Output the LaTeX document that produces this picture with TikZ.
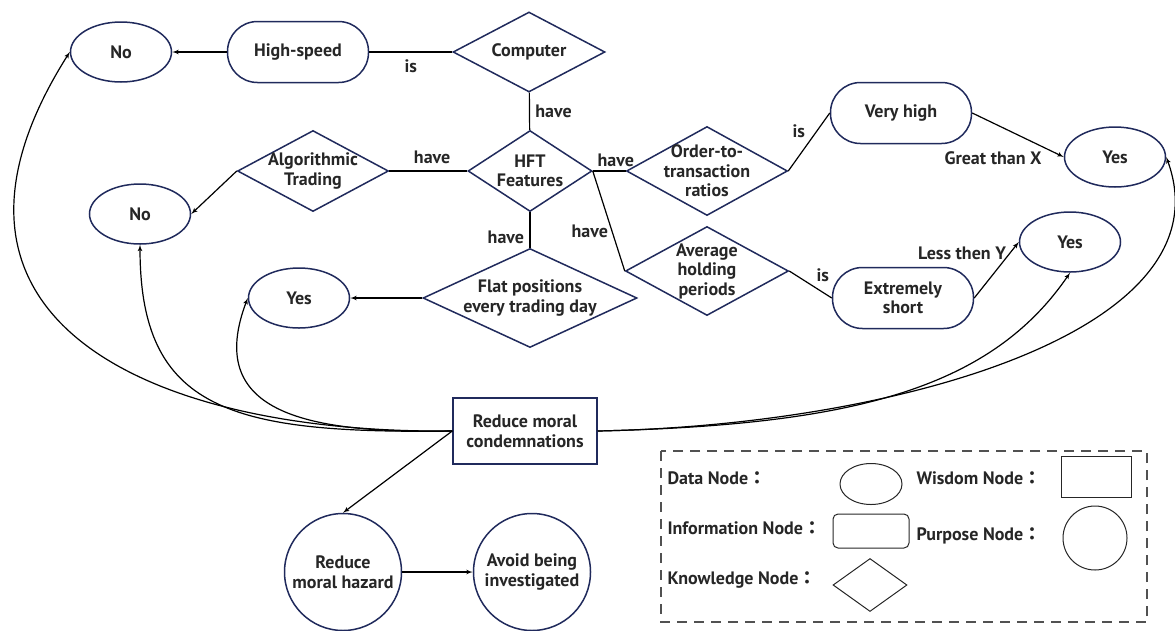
\documentclass[tikz,border=0pt]{standalone}
\usepackage{fontspec}
\setmainfont{PT Sans}
\newfontfamily\cjk{Noto Sans CJK TC}
\usetikzlibrary{shapes.geometric,arrows,positioning}
\definecolor{navy}{RGB}{32,42,92}
\definecolor{ink}{RGB}{38,38,38}

\begin{document}
\begin{tikzpicture}[x=1pt,y=-1pt]
    \tikzset{
      every node/.style={font=\bfseries\fontsize{18}{19.5}\selectfont, text=ink},
      datum/.style={draw=navy, ellipse, line width=1.5pt, minimum width=101pt, minimum height=60pt, inner sep=0pt},
      info/.style={draw=navy, rectangle, rounded corners=30pt, line width=1.5pt, minimum width=141pt, minimum height=61pt, inner sep=0pt, align=center},
      know/.style={draw=navy, diamond, line width=1.5pt, inner sep=0pt},
      purpose/.style={draw=navy, circle, line width=1.5pt, minimum size=117pt, inner sep=0pt, align=center},
      wisdom/.style={draw=navy, rectangle, line width=1.5pt, minimum width=144pt, minimum height=66pt, inner sep=0pt, align=center},
      legshape/.style={draw=ink, line width=1pt, inner sep=0pt},
      txt/.style={align=center},
      line/.style={draw, -latex', line width=1.2pt},
      conn/.style={draw, line width=1.2pt}
    }
    \useasboundingbox (0,0) rectangle (1175,630);

    \node [datum] (no1) at (121,52) {No};
    \node [info] (hs) at (298,52) {High-speed};
    \node [know, minimum width=152pt, minimum height=80pt, label={[txt]center:Computer}] (comp) at (529,52) {};
    \node [know, minimum width=124pt, minimum height=81pt, label={[txt]center:HFT\\Features}] (hft) at (530,171) {};
    \node [know, minimum width=151pt, minimum height=81pt, label={[txt]center:Algorithmic\\Trading}] (alg) at (313,171) {};
    \node [datum] (no2) at (140,214) {No};
    \node [know, minimum width=161pt, minimum height=89pt, label={[txt]center:Order-to-\\transaction\\ratios}] (otr) at (707,171) {};
    \node [know, minimum width=163pt, minimum height=89pt, label={[txt]center:Average\\holding\\periods}] (ahp) at (707,271) {};
    \node [know, minimum width=214pt, minimum height=99pt, label={[txt]center:Flat positions\\every trading day}] (flat) at (530,298) {};
    \node [info] (vh) at (901,113) {Very high};
    \node [info] (es) at (903,298) {Extremely\\short};
    \node [datum] (yes1) at (1115,157) {Yes};
    \node [datum] (yes2) at (1070,242) {Yes};
    \node [datum] (yes3) at (299,298) {Yes};
    \node [wisdom] (rmc) at (525,431) {Reduce moral\\condemnations};
    \node [purpose] (rmh) at (343,572) {Reduce\\moral hazard};
    \node [purpose] (abi) at (532,572) {Avoid being\\investigated};

    \path [line] (hs) -- (no1);
    \path [conn] (hs) -- node[below=4pt] {is} (comp);
    \path [conn] (comp) -- node[right=2pt] {have} (hft);
    \path [conn] (alg) -- node[above=3pt, pos=0.55] {have} (hft);
    \path [line] (alg.west) -- (no2.east);
    \path [conn] (hft.east) -- node[above, pos=0.7] {have} (otr.west);
    \path [conn] (hft.east) -- node[left, pos=0.6] {have} (ahp.west);
    \path [conn] (hft) -- node[left=2pt, pos=0.7] {have} (flat);
    \path [line] (flat) -- (yes3);
    \path [conn] (otr.east) -- node[left=8pt, pos=0.69] {is} (vh.west);
    \path [line] (vh.east) -- node[below left, pos=0.8] {Great than X} (yes1.west);
    \path [conn] (ahp.east) -- node[above right, pos=0.55] {is} (es.west);
    \path [line] (es.east) -- node[left, pos=0.8] {Less then Y} (yes2.west);

    \path [line] (rmc.west) .. controls (150,434) and (-100,320) .. (no1.west);
    \path [line] (rmc.west) .. controls (230,434) and (140,410) .. (no2.south);
    \path [line] (rmc.west) .. controls (300,434) and (205,410) .. (yes3.west);
    \path [line] (rmc.east) .. controls (850,425) and (990,390) .. (yes2.south);
    \path [line] (rmc.east) .. controls (900,425) and (1230,330) .. (yes1.east);
    \path [line] (rmc.west) -- (rmh.north);
    \path [line] (rmh) -- (abi);

    \draw [dash pattern=on 10pt off 7pt, line width=1.2pt, draw=ink!80] (661,451) rectangle (1147,622);
    \node [anchor=west] (ldata) at (664,478) {Data Node{\cjk ：}};
    \node [legshape, ellipse, minimum width=62pt, minimum height=41pt] (kdata) at (871,484) {};
    \node [anchor=west] (lwis) at (913,478) {Wisdom Node{\cjk ：}};
    \node [legshape, rectangle, minimum width=70pt, minimum height=41pt] (kwis) at (1096,477) {};
    \node [anchor=west] (linfo) at (664,528) {Information Node{\cjk ：}};
    \node [legshape, rectangle, rounded corners=5pt, minimum width=76pt, minimum height=34pt] (kinfo) at (871,531) {};
    \node [anchor=west] (lpur) at (913,536) {Purpose Node{\cjk ：}};
    \node [legshape, circle, minimum size=64pt] (kpur) at (1095,538) {};
    \node [anchor=west] (lknow) at (664,580) {Knowledge Node{\cjk ：}};
    \node [legshape, diamond, minimum width=74pt, minimum height=53pt] (kknow) at (870,585) {};
\end{tikzpicture}
\end{document}
